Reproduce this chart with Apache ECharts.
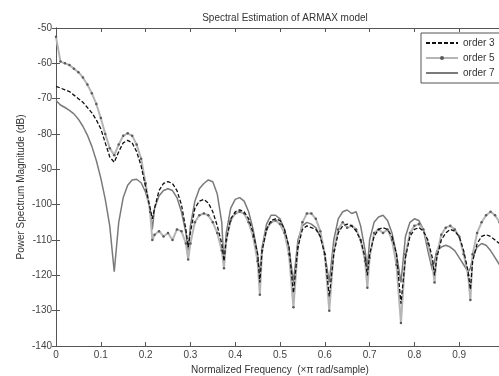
<!DOCTYPE html>
<html>
<head>
<meta charset="utf-8">
<script src="https://cdn.jsdelivr.net/npm/echarts@6/dist/echarts.min.js"></script>
<style>html,body{margin:0;padding:0;background:#fff;}#c{width:499px;height:376px;}</style>
</head>
<body>
<div id="c"></div>
<script>
const freq = [
  0,0.01,0.02,0.03,0.04,0.05,0.06,0.07,0.08,0.09,
  0.10,0.11,0.12,0.13,0.14,0.15,0.16,0.17,0.18,0.19,
  0.20,0.21,0.215,0.22,0.23,0.24,0.25,0.26,0.27,0.28,0.29,0.295,
  0.30,0.31,0.32,0.33,0.34,0.35,0.36,0.37,0.375,
  0.38,0.39,0.40,0.41,0.42,0.43,0.44,0.45,0.455,
  0.46,0.47,0.48,0.49,0.50,0.51,0.52,0.53,0.54,0.55,0.56,0.57,0.58,0.59,
  0.60,0.61,0.62,0.63,0.64,0.65,0.66,0.67,0.68,0.69,0.695,
  0.70,0.71,0.72,0.73,0.74,0.75,0.76,0.77,0.78,0.79,0.80,0.81,0.82,0.83,0.84,0.845,
  0.85,0.86,0.87,0.88,0.89,0.90,0.91,0.92,0.925,
  0.93,0.94,0.95,0.96,0.97,0.98,0.99,1.0
];
const order3 = [
  -66.5,-67,-67.5,-68,-69,-70,-71,-72.5,-74,-76,
  -78.5,-82.5,-86.5,-88,-85,-82.5,-81.8,-82.5,-85,-89,
  -95,-101,-104,-101,-96,-94,-93.5,-94,-96,-100,-107,-112,
  -108,-101,-99,-98.5,-99.5,-102,-106,-111,-116,
  -110,-104,-102,-101.5,-102,-104,-108,-114,-122,
  -113,-107,-104.5,-104,-104.5,-107,-112,-125,-112,-107,-106,-106.5,-107,-109,
  -114,-126,-114,-108,-106,-105.5,-106,-107.5,-110,-115,-120,
  -114,-109,-107,-106.5,-107,-109,-114,-128,-115,-109,-107,-106.5,-107.5,-110,-115,-120,
  -115,-110,-108,-107,-107.5,-109,-113,-119,-124,
  -116,-111,-109,-108.5,-109,-110,-111,-112
];
const order5 = [
  -52.5,-59.5,-60,-60.5,-61.5,-62.5,-64,-66,-68.5,-71.5,
  -75.5,-80,-84,-86,-83,-80.5,-79.8,-80.5,-83,-87,
  -94,-102,-110,-108.5,-107.5,-109,-108,-110,-107,-107.5,-111,-115.5,
  -111,-105,-103,-102.5,-103,-105,-108,-113,-118,
  -110,-104.5,-102.5,-102,-102.5,-105,-109,-116,-125.5,
  -113,-107,-105,-104.5,-105.5,-108,-114,-129,-112,-105,-102.5,-102.5,-104,-107.5,
  -114,-130,-113,-107,-105,-106.5,-106,-107,-110,-116,-123.5,
  -115,-108,-107,-108,-107,-110,-117,-133.5,-114,-108,-106,-105.5,-107,-111,-117,-122,
  -114,-108.5,-106.5,-106,-107,-109,-114,-120,-127,
  -114,-108,-105,-103,-102,-103,-105,-108
];
const order7 = [
  -70.5,-71.8,-72.5,-73.3,-74.3,-75.8,-77.8,-80.3,-83.5,-87.5,
  -92.5,-98.5,-106,-119,-105,-98,-94.5,-93,-92.8,-93.8,
  -96.5,-101,-107,-101,-97.5,-96,-95.5,-96,-98,-102,-108,-113,
  -106,-99,-95.5,-94,-93,-93.5,-97,-105,-117,
  -108,-101,-98.5,-98,-99,-102,-107,-114,-120,
  -112,-105.5,-103,-103,-104,-107,-112,-122,-110,-106,-105,-105.5,-106.5,-109,
  -114,-122,-110,-104,-102,-101.5,-102.5,-102,-106,-113,-118,
  -110,-105,-103.5,-103,-104.5,-108,-114,-122,-109,-105,-104,-104.5,-107,-113,-118.5,-116,
  -113,-112,-111.5,-112,-113,-115,-117,-119,-118,
  -115,-112,-111,-111.5,-113,-115,-117,-118
];
const xTicks = [0,0.1,0.2,0.3,0.4,0.5,0.6,0.7,0.8,0.9,1];
const yTicks = [-140,-130,-120,-110,-100,-90,-80,-70,-60,-50];

function pairs(v){ return freq.map((f,i)=>[f, v[i]]); }

const chart = echarts.init(document.getElementById('c'), null, {renderer:'canvas'});
const font = 'Liberation Sans, Arial, sans-serif';
const axisCol = '#555';
chart.setOption({
  animation:false,
  backgroundColor:'#fff',
  title:{text:'Spectral Estimation of ARMAX model', left:280, textAlign:'center', top:8,
    textStyle:{fontFamily:font, fontSize:10, fontWeight:'normal', color:'#333'}},
  legend:{
    orient:'vertical', left:421, top:33, itemWidth:32, itemHeight:5, itemGap:5,
    padding:[5,12,5,4], borderColor:axisCol, borderWidth:1, backgroundColor:'#fff',
    textStyle:{fontFamily:font, fontSize:10, color:'#333'},
    data:[{name:'order 3', itemStyle:{opacity:0}}, {name:'order 5'}, {name:'order 7', itemStyle:{opacity:0}}]
  },
  grid:{left:56, top:28, width:448, height:318, containLabel:false, outerBoundsMode:'none'},
  xAxis:[{
    type:'value', min:xTicks[0], max:xTicks[xTicks.length-1], interval:0.1,
    name:'Normalized Frequency  (×π rad/sample)', nameLocation:'middle', nameGap:19,
    nameMoveOverlap:false,
    nameTextStyle:{fontFamily:font, fontSize:10, color:'#333'},
    axisLine:{lineStyle:{color:axisCol, width:1}},
    axisTick:{inside:true, length:4, lineStyle:{color:axisCol}},
    axisLabel:{fontFamily:font, fontSize:10, color:'#444', margin:4,
      formatter:v=> v===0?'0':String(Math.round(v*10)/10)},
    splitLine:{show:false}
  },{
    type:'value', position:'top', min:xTicks[0], max:xTicks[xTicks.length-1], interval:0.1,
    axisLine:{lineStyle:{color:axisCol, width:1}},
    axisTick:{inside:true, length:4, lineStyle:{color:axisCol}},
    axisLabel:{show:false}, splitLine:{show:false}
  }],
  yAxis:[{
    type:'value', min:yTicks[0], max:yTicks[yTicks.length-1], interval:10,
    name:'Power Spectrum Magnitude (dB)', nameLocation:'middle', nameGap:30,
    nameMoveOverlap:false,
    nameTextStyle:{fontFamily:font, fontSize:10, color:'#333'},
    axisLine:{lineStyle:{color:axisCol, width:1}},
    axisTick:{inside:true, length:4, lineStyle:{color:axisCol}},
    axisLabel:{fontFamily:font, fontSize:10, color:'#444', margin:4},
    splitLine:{show:false}
  },{
    type:'value', position:'right', min:yTicks[0], max:yTicks[yTicks.length-1], interval:10,
    axisLine:{lineStyle:{color:axisCol, width:1}},
    axisTick:{inside:true, length:4, lineStyle:{color:axisCol}},
    axisLabel:{show:false}, splitLine:{show:false}
  }],
  series:[
    {name:'order 3', type:'line', data:pairs(order3), symbol:'none', z:4,
      lineStyle:{color:'#111', width:1.3, type:[4,2]}, itemStyle:{color:'#111'}},
    {name:'order 5', type:'line', data:pairs(order5), symbol:'circle', symbolSize:2.5,
      showSymbol:true, showAllSymbol:true, z:3,
      lineStyle:{color:'#b5b5b5', width:2}, itemStyle:{color:'#5a5a5a', borderWidth:0}},
    {name:'order 7', type:'line', data:pairs(order7), symbol:'none', z:2,
      lineStyle:{color:'#7a7a7a', width:1.5}, itemStyle:{color:'#7a7a7a'}}
  ]
});
</script>
</body>
</html>
